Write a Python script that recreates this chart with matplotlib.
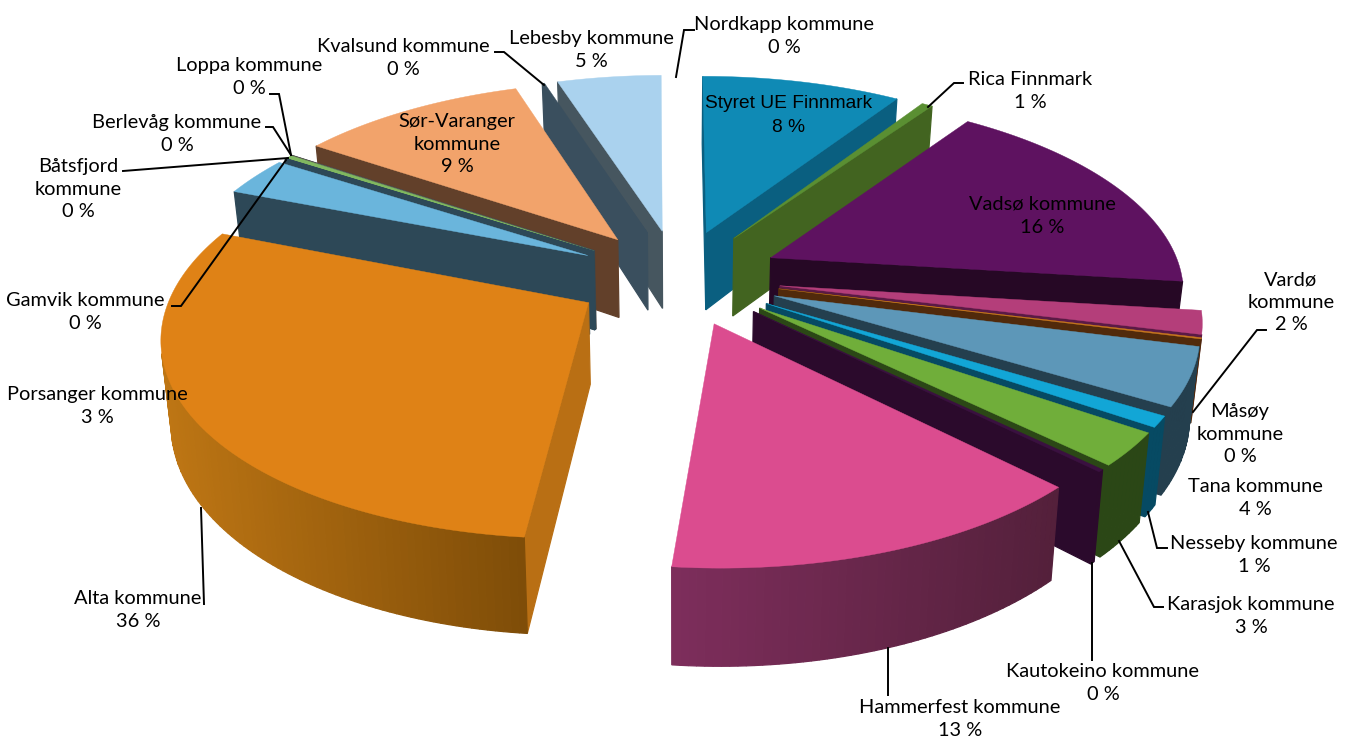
import numpy as np
import matplotlib
matplotlib.use("Agg")
import matplotlib.pyplot as plt
from matplotlib.colors import to_rgb

plt.rcParams["font.family"] = ["Lato", "DejaVu Sans"]

# slices clockwise from 12 o'clock, shares
names = ["Styret UE Finnmark", "Rica Finnmark", "Vadsø kommune", "Vardø\nkommune", "Måsøy\nkommune",
         "Tana kommune", "Nesseby kommune", "Karasjok kommune", "Kautokeino kommune", "Hammerfest kommune",
         "Alta kommune", "Porsanger kommune", "Gamvik kommune", "Båtsfjord\nkommune", "Berlevåg kommune",
         "Loppa kommune", "Sør-Varanger\nkommune", "Kvalsund kommune", "Lebesby kommune", "Nordkapp kommune"]
pct_labels = [8, 1, 16, 2, 0, 4, 1, 3, 0, 13, 36, 3, 0, 0, 0, 0, 9, 0, 5, 0]
shares = [9.2, 0.5, 17.3, 1.9, 0.1, 4.7, 0.9, 2.7, 0.2, 14.1,
          29.4, 3.2, 0.02, 0.02, 0.3, 0.02, 10.5, 0.1, 4.8, 0.14]

top_colors = ["#0F8AB5", "#5A8F32", "#5E1260", "#B43E7A", "#C9781E", "#5D97B8", "#12A6D6", "#70AE3A", "#3A1040",
              "#DB4C8F", "#DF8216", "#6AB5DC", "#2D4857", "#2D4857", "#80B860", "#555555", "#F2A36B", "#3A4F5E",
              "#AAD2EE", "#FFFFFF"]
side_colors = ["#0A5F80", "#426420", "#260825", "#5A1A45", "#512A0B", "#243F4E", "#064A63", "#2B4716", "#2B0A2C",
               "#54203B", "#B96F14", "#2D4857", "#2D4857", "#2D4857", "#2D4857", "#444444", "#62402A", "#3A4F5E",
               "#46565F", "#FFFFFF"]
# outer rim gradient (left to right) where the original has one
rim_grad = {9: ("#7E2E5C", "#54203B"), 10: ("#BE7614", "#7F4D08")}

# label centre x, first line y
label_pos = [(789, 103), (1030, 78), (1042, 203), (1291, 278), (1240, 410), (1255, 485), (1254, 542), (1251, 603),
             (1103, 670), (960, 706), (138, 597), (97, 393), (85, 299), (78, 165), (177, 121), (249, 64),
             (457, 120), (403, 45), (591, 37), (784, 23)]

leaders = [[(694, 30), (684, 30), (676, 77)],
           [(963, 83), (954, 83), (928, 107)],
           [(270, 94), (279, 94), (291, 155)],
           [(266, 127), (273, 127), (291, 155)],
           [(123, 171), (288, 158)],
           [(172, 306), (181, 306), (286, 160)],
           [(495, 52), (504, 52), (544, 85)],
           [(1266, 330), (1257, 330), (1193, 412)],
           [(1148, 512), (1157, 548), (1167, 548)],
           [(1119, 541), (1154, 607), (1163, 607)],
           [(1092, 563), (1092, 660)],
           [(888, 648), (888, 695)],
           [(201, 508), (204, 604)]]

CX, CY = 678, 277
R, RY, K = 412, 192, 0.15
H = 80
EXPLODE = 0.25
BOTTOM_SHRINK = 0.98


def project(X, Y, z=0):
    w = 1 + K * Y
    x = R * X / w
    y = -RY * Y / w + H * z / w
    if z:
        x = x * BOTTOM_SHRINK
    return np.column_stack([CX + x, CY + y])


def area(p):
    x, y = p[:, 0], p[:, 1]
    return 0.5 * np.sum(x * np.roll(y, -1) - np.roll(x, -1) * y)


def draw_face(ax, p, color):
    if area(p) < 0:
        ax.fill(p[:, 0], p[:, 1], color=color, lw=0.9)


def draw_slice(ax, i, a0, a1):
    mid = (a0 + a1) / 2
    ox, oy = EXPLODE * np.sin(mid), EXPLODE * np.cos(mid)
    th = np.linspace(a0, a1, max(int((a1 - a0) * 60), 2) + 1)
    rx, ry = ox + np.sin(th), oy + np.cos(th)
    top = project(rx, ry)
    bot = project(rx, ry, 1)
    ap_top = project(np.array([ox]), np.array([oy]))
    ap_bot = project(np.array([ox]), np.array([oy]), 1)

    side = side_colors[i]
    draw_face(ax, np.vstack([ap_top, top[0], bot[0], ap_bot]), side)
    draw_face(ax, np.vstack([top[-1], ap_top, ap_bot, bot[-1]]), side)
    for j in range(len(th) - 1):
        if i in rim_grad:
            c0, c1 = map(np.array, map(to_rgb, rim_grad[i]))
            xs = top[:, 0]
            t = (top[j, 0] - xs.min()) / (xs.max() - xs.min())
            col = tuple(c0 + (c1 - c0) * t)
        else:
            col = side
        draw_face(ax, np.vstack([top[j], top[j + 1], bot[j + 1], bot[j]]), col)
    outline = np.vstack([ap_top, top])
    ax.fill(outline[:, 0], outline[:, 1], color=top_colors[i], lw=0.3)


def main():
    fig = plt.figure(figsize=(13.53, 7.5), dpi=100)
    ax = fig.add_axes([0, 0, 1, 1])
    ax.set_xlim(0, 1353)
    ax.set_ylim(750, 0)
    ax.axis("off")

    edges = np.cumsum([0] + shares) / sum(shares) * 2 * np.pi
    mids = (edges[:-1] + edges[1:]) / 2
    # back slices first, so the front ones paint over them
    for i in np.argsort(-np.cos(mids)):
        draw_slice(ax, i, edges[i], edges[i + 1])

    for pts in leaders:
        xs, ys = zip(*pts)
        ax.plot(xs, ys, color="black", lw=1.4, solid_joinstyle="miter")

    for name, pct, (x, y) in zip(names, pct_labels, label_pos):
        if name.startswith("Styret"):
            ax.text(x, y - 8, f"{name}\n{pct} %", ha="center", va="top", fontsize=13.8,
                    linespacing=1.5, color="black", family="Liberation Sans")
        else:
            ax.text(x, y - 7, f"{name}\n{pct} %", ha="center", va="top", fontsize=14.4,
                    linespacing=1.4, color="black")

    fig.savefig("out.png", dpi=100)


if __name__ == "__main__":
    main()
